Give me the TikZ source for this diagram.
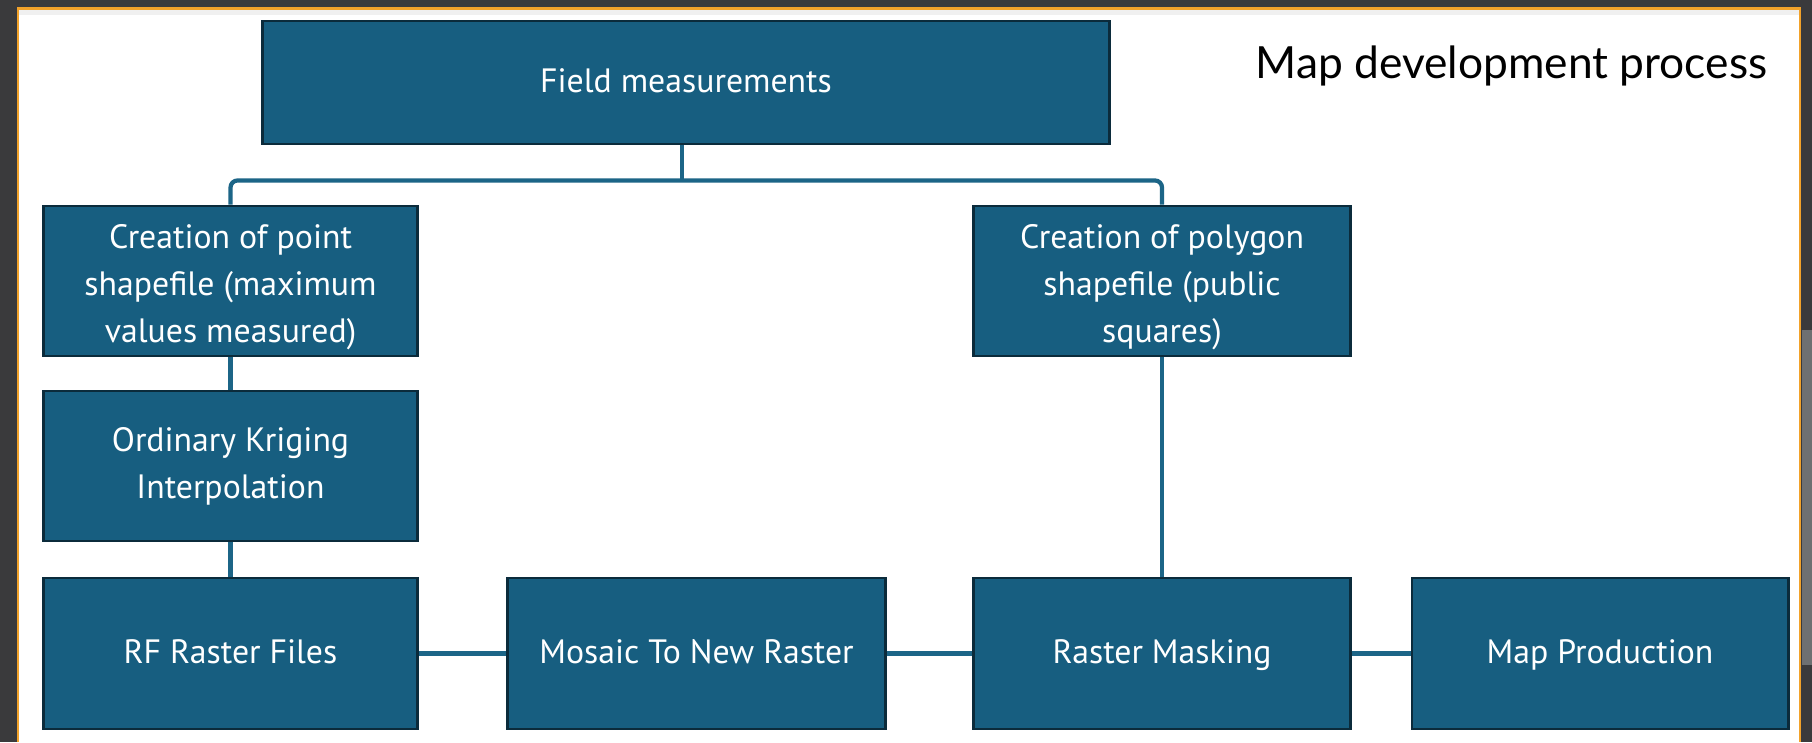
\documentclass[tikz,border=0pt]{standalone}
\usepackage{fontspec}
\setmainfont{PT Sans}
\newfontfamily\titlefont{Lato}
\definecolor{boxfill}{HTML}{175E80}
\definecolor{boxline}{HTML}{0B2B3B}
\definecolor{connc}{HTML}{1C6587}
\definecolor{framegrey}{HTML}{3A3A3C}
\definecolor{framelight}{HTML}{6E7072}
\definecolor{framegold}{HTML}{F2A22A}
\definecolor{stripgrey}{HTML}{F0F0F0}
\tikzset{
  procbox/.style={draw=boxline, line width=0.8pt, fill=boxfill, text=white,
    align=center, inner sep=0pt, font=\fontsize{9.6}{13.4}\selectfont},
  oneline/.style={text height=1.55ex, text depth=0.45ex},
  conn/.style={draw=connc, line width=1.2pt},
}
\begin{document}
\begin{tikzpicture}[x=0.01cm,y=-0.01cm]
\useasboundingbox (0,0) rectangle (1812,742);
\fill[framegrey] (0,0) rectangle (1812,742);
\fill[framelight] (1802,330) rectangle (1812,665);
\fill[white] (18,9) rectangle (1800,742);
\fill[stripgrey] (18,9) rectangle (1800,15);
\draw[framegold, line width=0.6pt] (18,742) -- (18,8.5) -- (1800,8.5) -- (1800,742);

\node[procbox, oneline, minimum width=8.46cm, minimum height=1.23cm] (field) at (686,82.5) {Field measurements};
\node[procbox, minimum width=3.73cm, minimum height=1.50cm] (point) at (230.5,281) {\rule{0pt}{3.6mm}Creation of point\\shapefile (maximum\\values measured)};
\node[procbox, minimum width=3.76cm, minimum height=1.50cm] (poly) at (1162,281) {\rule{0pt}{3.6mm}Creation of polygon\\shapefile (public\\squares)};
\node[procbox, minimum width=3.73cm, minimum height=1.50cm] (krig) at (230.5,466) {Ordinary Kriging\\Interpolation};
\node[procbox, oneline, minimum width=3.73cm, minimum height=1.51cm] (rf) at (230.5,653.5) {RF Raster Files};
\node[procbox, oneline, minimum width=3.77cm, minimum height=1.51cm] (mosaic) at (696.5,653.5) {Mosaic To New Raster};
\node[procbox, oneline, minimum width=3.76cm, minimum height=1.51cm] (mask) at (1162,653.5) {Raster Masking};
\node[procbox, oneline, minimum width=3.76cm, minimum height=1.51cm] (mapp) at (1600,653.5) {Map Production};

\node[anchor=base east, inner sep=0pt, font=\titlefont\fontsize{12.6}{15}\selectfont] (title) at (1768,78) {Map development process};

\coordinate (fs) at ([xshift=-0.04cm]field.south);
\coordinate (junc) at ([yshift=-0.35cm]fs);
\draw[conn] (fs) -- (junc);
\draw[conn, rounded corners=2pt] (point.north) |- (junc) -| (poly.north);
\draw[conn] (point) -- (krig);
\draw[conn] (krig) -- (rf);
\draw[conn] (poly) -- (mask);
\draw[conn] (rf) -- (mosaic);
\draw[conn] (mosaic) -- (mask);
\draw[conn] (mask) -- (mapp);
\end{tikzpicture}
\end{document}
